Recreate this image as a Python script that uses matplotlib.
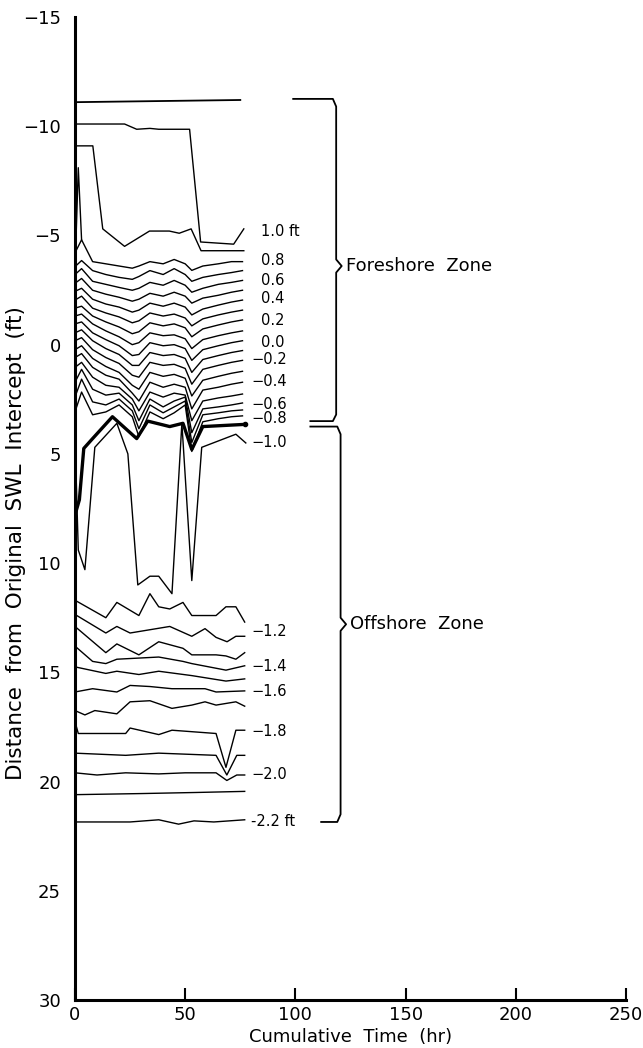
import matplotlib.pyplot as plt

# contour lines, depth in ft, time in hr
hours = [0, 3, 8, 14, 20, 26, 29, 34, 40, 45, 50, 53, 58, 65, 71, 76]

# foreshore contours 0.8 ... -0.8 ft (one list per contour)
foreshore = [
    [-4.2, -4.8, -3.8, -3.7, -3.6, -3.5, -3.6, -3.8, -3.7, -3.9, -3.7, -3.4, -3.6, -3.7, -3.8, -3.8],
    [-3.57, -3.85, -3.39, -3.21, -3.08, -2.99, -3.12, -3.39, -3.21, -3.48, -3.21, -2.90, -3.08, -3.21, -3.30, -3.39],
    [-3.21, -3.48, -2.90, -2.76, -2.62, -2.49, -2.58, -2.85, -2.72, -2.94, -2.72, -2.40, -2.58, -2.76, -2.85, -2.94],
    [-2.81, -3.03, -2.49, -2.31, -2.17, -1.99, -2.08, -2.35, -2.22, -2.40, -2.22, -1.90, -2.13, -2.26, -2.40, -2.49],
    [-2.44, -2.58, -2.08, -1.86, -1.72, -1.49, -1.58, -1.90, -1.76, -1.90, -1.72, -1.36, -1.63, -1.81, -1.95, -2.04],
    [-2.04, -2.22, -1.67, -1.45, -1.27, -1.00, -1.09, -1.45, -1.31, -1.40, -1.22, -0.86, -1.18, -1.36, -1.49, -1.58],
    [-1.67, -1.76, -1.31, -1.04, -0.81, -0.50, -0.59, -1.00, -0.86, -0.95, -0.77, -0.36, -0.72, -0.90, -1.04, -1.13],
    [-1.31, -1.40, -0.95, -0.63, -0.36, 0.00, -0.09, -0.54, -0.41, -0.45, -0.27, 0.18, -0.23, -0.41, -0.54, -0.63],
    [-0.95, -1.04, -0.54, -0.23, 0.05, 0.50, 0.45, -0.09, 0.05, 0.00, 0.18, 0.72, 0.23, 0.05, -0.09, -0.18],
    [-0.54, -0.68, -0.18, 0.18, 0.45, 0.95, 0.95, 0.36, 0.50, 0.45, 0.63, 1.27, 0.68, 0.50, 0.36, 0.27],
    [-0.18, -0.32, 0.23, 0.59, 0.86, 1.40, 1.49, 0.81, 0.95, 0.90, 1.09, 1.81, 1.13, 0.95, 0.81, 0.72],
    [0.23, 0.05, 0.63, 1.00, 1.27, 1.86, 2.04, 1.27, 1.45, 1.36, 1.54, 2.35, 1.63, 1.45, 1.31, 1.22],
    [0.59, 0.41, 1.04, 1.40, 1.58, 2.22, 2.58, 1.72, 1.95, 1.81, 1.95, 2.94, 2.08, 1.95, 1.81, 1.72],
    [1.04, 0.81, 1.49, 1.86, 1.95, 2.49, 3.03, 2.17, 2.40, 2.22, 2.31, 3.48, 2.58, 2.44, 2.35, 2.26],
    [1.72, 1.13, 2.04, 2.31, 2.22, 2.76, 3.48, 2.49, 2.85, 2.58, 2.40, 4.03, 2.94, 2.85, 2.76, 2.67],
    [2.40, 1.58, 2.62, 2.76, 2.49, 3.03, 3.85, 2.76, 3.12, 2.85, 2.58, 4.48, 3.21, 3.12, 3.03, 2.99],
    [3.08, 2.17, 3.21, 3.08, 2.76, 3.30, 4.21, 3.08, 3.39, 3.12, 2.76, 4.89, 3.53, 3.39, 3.30, 3.26],
]

# upper contours
top_t = [0, 75]
top_v = [-11.1, -11.2]
c10_t = [0, 22.5, 28, 34, 38, 52, 57, 72, 76.6]
c10_v = [-10.1, -10.1, -9.86, -9.9, -9.86, -9.86, -4.7, -4.6, -5.3]
c09_t = [0, 8.1, 12.6, 22.5, 33.8, 42.8, 47.3, 52.7, 57.2, 76.6]
c09_v = [-9.1, -9.1, -5.3, -4.5, -5.2, -5.2, -5.1, -5.3, -4.3, -4.3]
spike_t = [0.4, 1.5, 3]
spike_v = [-4.6, -8.1, -4.8]

# -0.9 (heavy) and -1.0 contours
heavy_t = [0, 2, 4, 8, 17, 28, 33, 43, 49, 53, 58, 77]
heavy_v = [7.8, 7.1, 4.75, 4.3, 3.3, 4.3, 3.5, 3.75, 3.6, 4.8, 3.75, 3.65]
c_10_t = [0, 1.5, 4.5, 9, 19, 24, 28.5, 34, 38, 44, 48.5, 53, 57.5, 73, 77.5]
c_10_v = [4.2, 9.4, 10.3, 4.7, 3.6, 5.0, 11.0, 10.6, 10.6, 11.4, 3.6, 10.8, 4.7, 4.1, 4.5]

# offshore contours -1.1 ... -2.2 ft
off11_t = [0, 14, 19, 29, 34, 38, 43, 49, 53, 64, 68.5, 73, 77]
off11_v = [11.7, 12.5, 11.8, 12.4, 11.4, 12.0, 12.1, 11.8, 12.4, 12.4, 12.0, 12.0, 12.7]
off12_t = [0, 14, 19, 25, 43, 53, 59, 64, 69, 73, 77]
off12_v = [12.35, 13.2, 12.9, 13.2, 12.9, 13.35, 13.0, 13.4, 13.6, 13.35, 13.35]
off13_t = [0, 14, 19, 29, 38, 49, 53, 64, 68.5, 73, 77]
off13_v = [12.9, 14.1, 13.7, 14.2, 13.6, 13.9, 14.2, 14.2, 14.25, 14.4, 14.1]
off14_t = [0, 8, 14, 19, 38, 49, 53, 68.5, 77]
off14_v = [13.8, 14.5, 14.6, 14.4, 14.3, 14.5, 14.6, 14.9, 14.7]
off15_t = [0, 14, 19, 29, 38, 53, 68.5, 77]
off15_v = [14.75, 15.05, 14.95, 15.1, 14.95, 15.15, 15.4, 15.3]
off16_t = [0, 8, 19, 25, 34, 44, 53, 59, 64, 77]
off16_v = [15.9, 15.75, 15.9, 15.6, 15.65, 15.75, 15.75, 15.75, 15.9, 15.85]
off17_t = [0, 4.5, 9, 19, 25, 34, 44, 53, 59, 64, 73, 77]
off17_v = [16.75, 16.95, 16.75, 16.9, 16.35, 16.3, 16.65, 16.5, 16.35, 16.5, 16.35, 16.55]
off18_t = [0, 1.5, 23, 25, 38, 44, 64, 68.5, 73, 77]
off18_v = [17.25, 17.8, 17.8, 17.55, 17.85, 17.65, 17.8, 19.35, 17.65, 17.65]
off19_t = [0, 23, 38, 64, 68.9, 73.4, 77]
off19_v = [18.7, 18.8, 18.7, 18.8, 19.7, 18.8, 18.8]
off20_t = [0, 10, 23, 38, 50, 64, 68.9, 73.4, 77]
off20_v = [19.6, 19.7, 19.6, 19.65, 19.6, 19.6, 19.95, 19.7, 19.7]
off21_t = [0, 30, 55, 77]
off21_v = [20.6, 20.55, 20.5, 20.45]
off22_t = [0, 25, 38, 47, 54, 63, 77]
off22_v = [21.85, 21.85, 21.75, 21.95, 21.8, 21.85, 21.75]

# contour labels
pos_labels = ["1.0 ft", "0.8", "0.6", "0.4", "0.2", "0.0"]
pos_label_v = [-5.2, -3.85, -2.95, -2.1, -1.1, -0.1]
neg_labels = ["\u22120.2", "\u22120.4", "\u22120.6", "\u22120.8", "\u22121.0",
              "\u22121.2", "\u22121.4", "\u22121.6", "\u22121.8", "\u22122.0", "-2.2 ft"]
neg_label_v = [0.7, 1.7, 2.75, 3.4, 4.5, 13.15, 14.75, 15.9, 17.7, 19.7, 21.85]

fig = plt.figure(figsize=(6.43, 10.48), dpi=100)
ax = fig.add_axes([0.1166, 0.0458, 0.857, 0.938])

lw = 1.0
for vals in foreshore:
    ax.plot(hours, vals, c='k', lw=lw)
ax.plot(top_t, top_v, c='k', lw=1.3)
ax.plot(c10_t, c10_v, c='k', lw=lw)
ax.plot(c09_t, c09_v, c='k', lw=lw)
ax.plot(spike_t, spike_v, c='k', lw=lw)
ax.plot(heavy_t, heavy_v, c='k', lw=2.4)
ax.plot(heavy_t[-1], heavy_v[-1], 'ko', ms=3)
ax.plot(c_10_t, c_10_v, c='k', lw=lw)

offshore = [(off11_t, off11_v), (off12_t, off12_v), (off13_t, off13_v), (off14_t, off14_v),
            (off15_t, off15_v), (off16_t, off16_v), (off17_t, off17_v), (off18_t, off18_v),
            (off19_t, off19_v), (off20_t, off20_v), (off21_t, off21_v), (off22_t, off22_v)]
for t, v in offshore:
    ax.plot(t, v, c='k', lw=lw)

for s, v in zip(pos_labels, pos_label_v):
    ax.text(84.5, v, s, fontsize=10.5, va='center', ha='left')
for s, v in zip(neg_labels, neg_label_v):
    ax.text(80, v, s, fontsize=10.5, va='center', ha='left')

# zone brackets
ax.plot([99, 117, 118.5, 118.5, 121, 118.5, 118.5, 117, 106.8],
        [-11.25, -11.25, -10.9, -3.9, -3.6, -3.3, 3.2, 3.5, 3.5],
        c='k', lw=1.3, clip_on=False)
ax.plot([106.8, 119, 120.5, 120.5, 123, 120.5, 120.5, 119, 111.7],
        [3.75, 3.75, 4.1, 12.5, 12.8, 13.1, 21.5, 21.85, 21.85],
        c='k', lw=1.3, clip_on=False)
ax.text(123, -3.6, "Foreshore  Zone", fontsize=13, va='center', ha='left')
ax.text(125, 12.8, "Offshore  Zone", fontsize=13, va='center', ha='left')

ax.set_xlim(0, 250)
ax.set_ylim(30, -15)
ax.set_xticks([0, 50, 100, 150, 200, 250])
ax.set_yticks([-15, -10, -5, 0, 5, 10, 15, 20, 25, 30])
ax.tick_params(axis='x', direction='in', length=9, width=1.5, labelsize=13, pad=4)
ax.tick_params(axis='y', length=0, labelsize=13, pad=10)
ax.spines['top'].set_visible(False)
ax.spines['right'].set_visible(False)
ax.spines['left'].set_linewidth(2.2)
ax.spines['bottom'].set_linewidth(2.2)
ax.set_xlabel('Cumulative  Time  (hr)', fontsize=13, labelpad=3)
ax.set_ylabel('Distance  from  Original  SWL  Intercept  (ft)', fontsize=15.5)
ax.yaxis.set_label_coords(-0.088, 0.465)

plt.savefig('out.png', dpi=100)
